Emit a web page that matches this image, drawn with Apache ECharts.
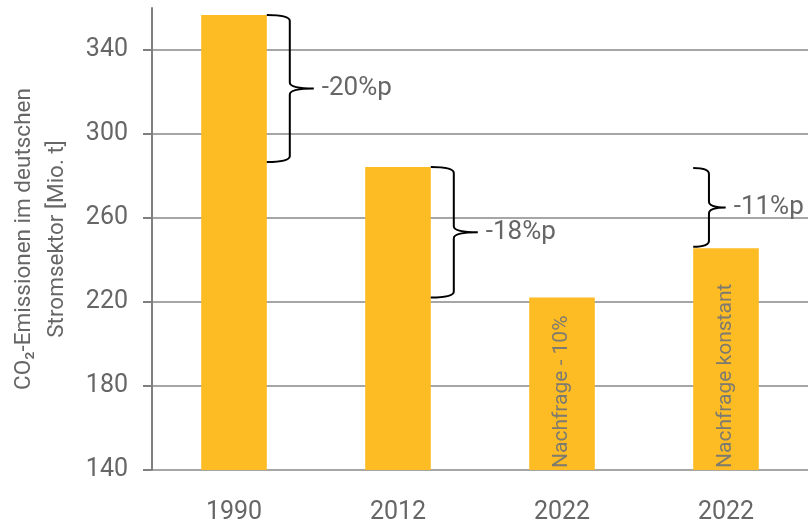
<!DOCTYPE html>
<html><head><meta charset="utf-8">
<script src="https://cdn.jsdelivr.net/npm/echarts@6/dist/echarts.min.js"></script>
<style>html,body{margin:0;padding:0;background:#fff}#c{width:809px;height:530px}</style>
</head><body><div id="c"></div>
<script>
const categories = ['1990', '2012', '2022', '2022'];
const emissions = [356.7, 284.3, 222.2, 245.6];
const barNotes = ['', '', 'Nachfrage - 10%', 'Nachfrage konstant'];
const yTicks = [140, 180, 220, 260, 300, 340];
const braceCats = [0, 1, 3];
const braceTops = [356.7, 284.3, 283.8];
const braceBottoms = [286.7, 222.2, 246.3];
const braceLabels = ['-20%p', '-18%p', '-11%p'];

const FONT = 'Roboto';
const TXT = '#666666';

const chart = echarts.init(document.getElementById('c'), null, {renderer: 'canvas'});

function renderBrace(params, api) {
  const cat = api.value(0);
  const pTop = api.coord([cat, api.value(1)]);
  const pBot = api.coord([cat, api.value(2)]);
  const half = api.size([1, 0])[0] * 0.2;
  const side = params.dataIndex === 2 ? -1 : 1;
  const x0 = pTop[0] + side * half;
  const yT = pTop[1], yB = pBot[1];
  const h = yB - yT;
  const w = Math.min(23, h * 0.2);
  const tip = w + 1;
  const mid = (yT + yB) / 2;
  const r = 6;
  const xv = x0 + w;
  const path = [
    'M', x0, yT,
    'Q', xv, yT, xv, yT + r,
    'L', xv, mid - r,
    'Q', xv, mid, xv + tip, mid,
    'M', xv + tip, mid,
    'Q', xv, mid, xv, mid + r,
    'L', xv, yB - r,
    'Q', xv, yB, x0, yB
  ].join(' ');
  return {
    type: 'group',
    children: [
      {type: 'path', shape: {pathData: path}, style: {fill: 'none', stroke: '#000', lineWidth: 2}},
      {type: 'text', x: xv + tip + 8, y: mid,
       style: {text: braceLabels[params.dataIndex], fill: TXT, font: '26px ' + FONT,
               textAlign: 'left', textVerticalAlign: 'middle'}}
    ]
  };
}

chart.setOption({
  animation: false,
  grid: {left: 152, right: 1, top: 8, bottom: 60, containLabel: false, outerBoundsMode: 'none'},
  xAxis: {
    type: 'category',
    data: categories,
    axisLine: {show: false},
    axisTick: {show: false},
    axisLabel: {color: TXT, fontSize: 25, fontFamily: FONT, margin: 30}
  },
  yAxis: {
    type: 'value',
    min: 140, max: 360, interval: 20,
    name: 'CO₂-Emissionen im deutschen\nStromsektor [Mio. t]',
    nameLocation: 'middle',
    nameGap: 78,
    nameTextStyle: {color: TXT, fontSize: 22.5, fontFamily: FONT, lineHeight: 33},
    axisLine: {show: true, lineStyle: {color: '#808080', width: 2}},
    axisTick: {show: true, length: 9, customValues: yTicks, lineStyle: {color: '#808080', width: 2}},
    axisLabel: {customValues: yTicks, color: TXT, fontSize: 25, fontFamily: FONT, margin: 24},
    splitLine: {show: true, lineStyle: {color: '#a6a6a6', width: 2}}
  },
  series: [
    {
      type: 'bar',
      data: emissions.map((v, i) => ({value: v, label: {formatter: barNotes[i]}})),
      barWidth: '40%',
      itemStyle: {color: '#FEBC24'},
      label: {
        show: true, position: 'insideBottom', rotate: 90, align: 'left', verticalAlign: 'middle',
        distance: 2, color: '#7d7a70', fontSize: 21, fontFamily: FONT
      }
    },
    {
      type: 'custom',
      renderItem: renderBrace,
      data: braceCats.map((c, i) => [c, braceTops[i], braceBottoms[i]]),
      z: 5,
      clip: false
    }
  ]
});
</script></body></html>
